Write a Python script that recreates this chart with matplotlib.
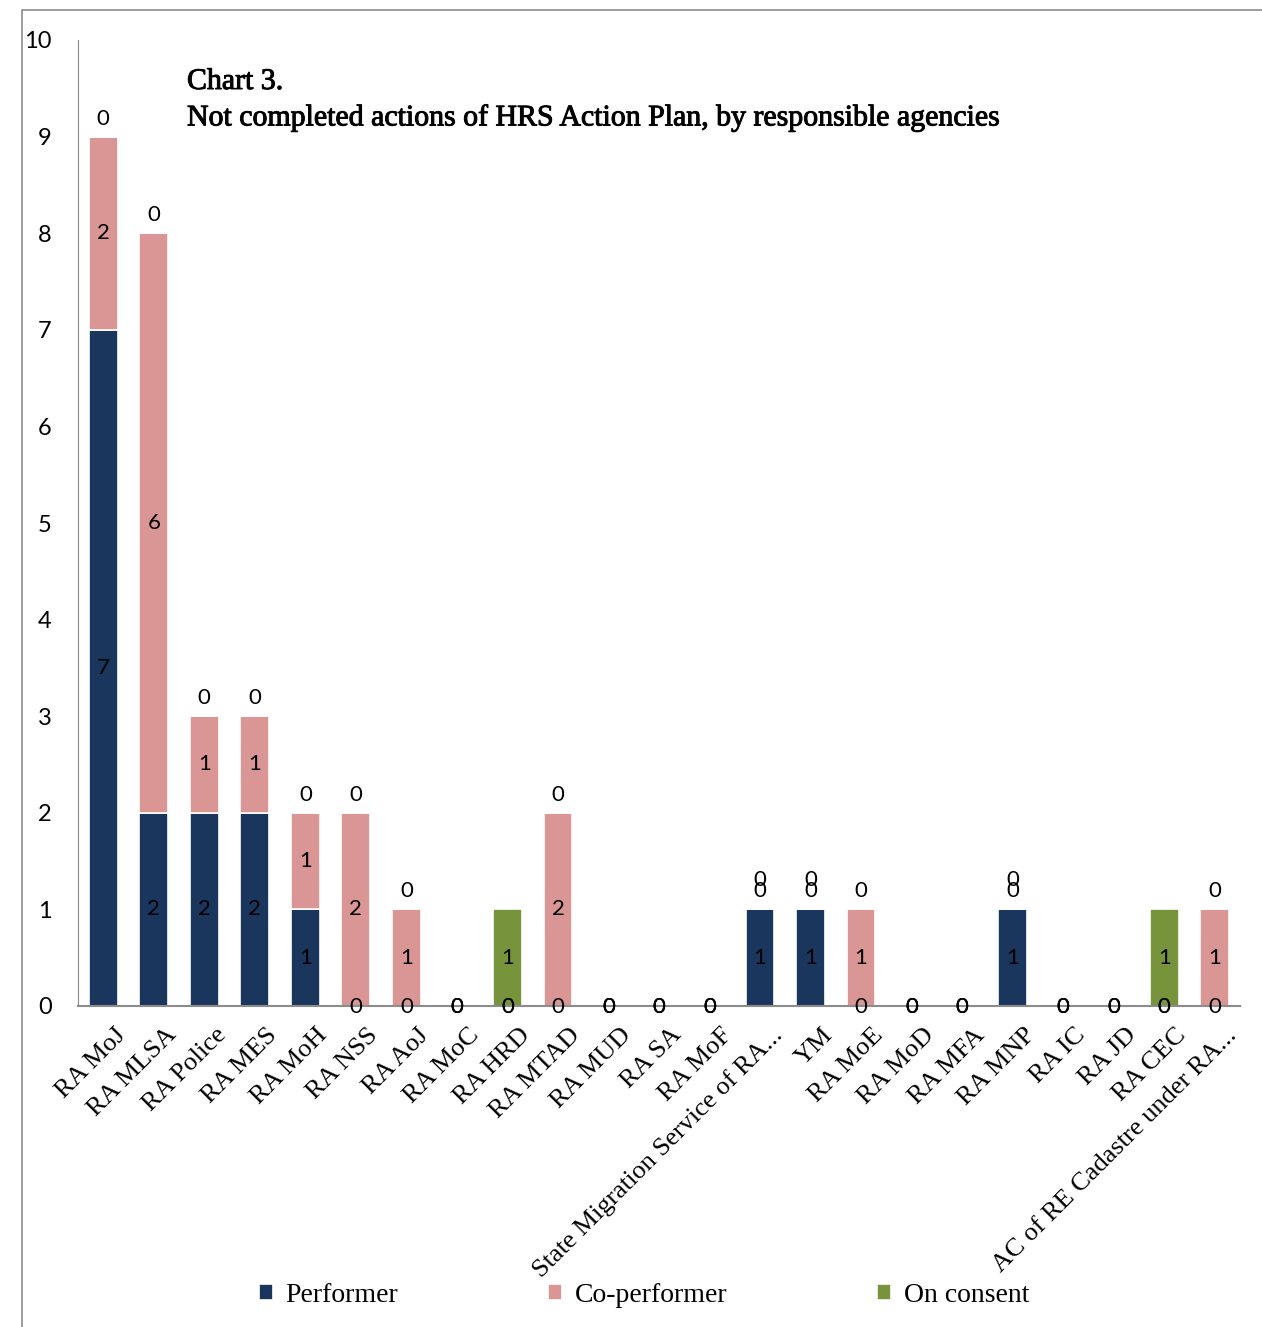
import numpy as np
import matplotlib
matplotlib.use("Agg")
import matplotlib.pyplot as plt
import matplotlib.transforms as mtransforms
import matplotlib.patheffects as pe
from matplotlib.patches import Rectangle

agencies = ["RA MoJ", "RA MLSA", "RA Police", "RA MES", "RA MoH", "RA NSS", "RA AoJ",
            "RA MoC", "RA HRD", "RA MTAD", "RA MUD", "RA SA", "RA MoF",
            "State Migration Service of RA...", "YM", "RA MoE", "RA MoD", "RA MFA",
            "RA MNP", "RA IC", "RA JD", "RA CEC", "AC of RE Cadastre under RA..."]
performer = [7, 2, 2, 2, 1, 0, 0, 0, 0, 0, 0, 0, 0, 1, 1, 0, 0, 0, 1, 0, 0, 0, 0]
co_performer = [2, 6, 1, 1, 1, 2, 1, 0, 0, 2, 0, 0, 0, 0, 0, 1, 0, 0, 0, 0, 0, 0, 1]
on_consent = [0, 0, 0, 0, 0, 0, 0, 0, 1, 0, 0, 0, 0, 0, 0, 0, 0, 0, 0, 0, 0, 1, 0]

series = [("Performer", performer, "#1b365d"),
          ("Co-performer", co_performer, "#d99694"),
          ("On consent", on_consent, "#77933c")]

serif = "Liberation Serif"
sans = "Lato"

fig = plt.figure(figsize=(12.62, 13.27), dpi=100)
ax = fig.add_axes([78 / 1262, 1 - 1006 / 1327, 1162 / 1262, 966 / 1327])

x = np.arange(len(agencies))
bottom = np.zeros(len(agencies))
above_count = np.zeros(len(agencies), dtype=int)
for name, vals, color in series:
    vals = np.array(vals, dtype=float)
    ax.bar(x, vals, 0.57, bottom=bottom, color=color, edgecolor="white",
           linewidth=1.2, label=name, zorder=2)
    for i, v in enumerate(vals):
        if v > 0:
            ax.text(x[i], bottom[i] + v / 2, f"{int(v)}", ha="center", va="center",
                    fontsize=16, family=sans, zorder=4)
        elif bottom[i] == 0:
            ax.annotate("0", (x[i], 0), xytext=(0, -1), textcoords="offset points",
                        ha="center", va="center", fontsize=16, family=sans, zorder=4)
        else:
            # zero segments sitting on top of a bar: label pushed above, stacked
            off = 13 + 8 * above_count[i]
            above_count[i] += 1
            ax.annotate("0", (x[i], bottom[i]), xytext=(0, off), textcoords="offset points",
                        ha="center", va="center", fontsize=16, family=sans, zorder=4)
    bottom += vals

ax.set_xlim(-0.5, len(agencies) - 0.5)
ax.set_ylim(0, 10)
ax.set_yticks(range(0, 11))
ax.set_yticklabels([str(v) for v in range(0, 11)], family=sans, fontsize=17)
ax.set_xticks(x)
ax.set_xticklabels([])
# category labels drawn by hand so they can sit a bit right of the tick
shift = mtransforms.ScaledTranslation(8 / 72, -13 / 72, fig.dpi_scale_trans)
for xi, name in zip(x, agencies):
    ax.text(xi, 0, name, transform=ax.get_xaxis_transform() + shift,
            rotation=45, ha="right", va="top", rotation_mode="anchor",
            family=serif, fontsize=19)
ax.tick_params(axis="y", length=0, pad=19)
ax.tick_params(axis="x", length=0)
for s in ["top", "right"]:
    ax.spines[s].set_visible(False)
ax.spines["left"].set_color("#8c8c8c")
ax.spines["bottom"].set_color("#8c8c8c")
ax.spines["bottom"].set_linewidth(1.5)

fig.text(187 / 1262, 1 - 69 / 1327,
         "Chart 3.\nNot completed actions of HRS Action Plan, by responsible agencies",
         ha="left", va="top", family=serif, fontsize=21.5, linespacing=1.45,
         path_effects=[pe.withStroke(linewidth=0.7, foreground="black")])

ax.legend(loc="center", bbox_to_anchor=(644 / 1262, 1 - 1295 / 1327),
          bbox_transform=fig.transFigure,
          ncol=3, frameon=False, prop={"family": serif, "size": 20},
          handlelength=0.5, handleheight=0.5, handletextpad=0.45, columnspacing=5.4)

# outer chart frame
fig.patches.append(Rectangle((22 / 1262, -0.1), 1.2, 1 - 10 / 1327 + 0.1,
                             transform=fig.transFigure, fill=False,
                             edgecolor="#8c8c8c", linewidth=1.2))

fig.savefig("out.png", dpi=100)
